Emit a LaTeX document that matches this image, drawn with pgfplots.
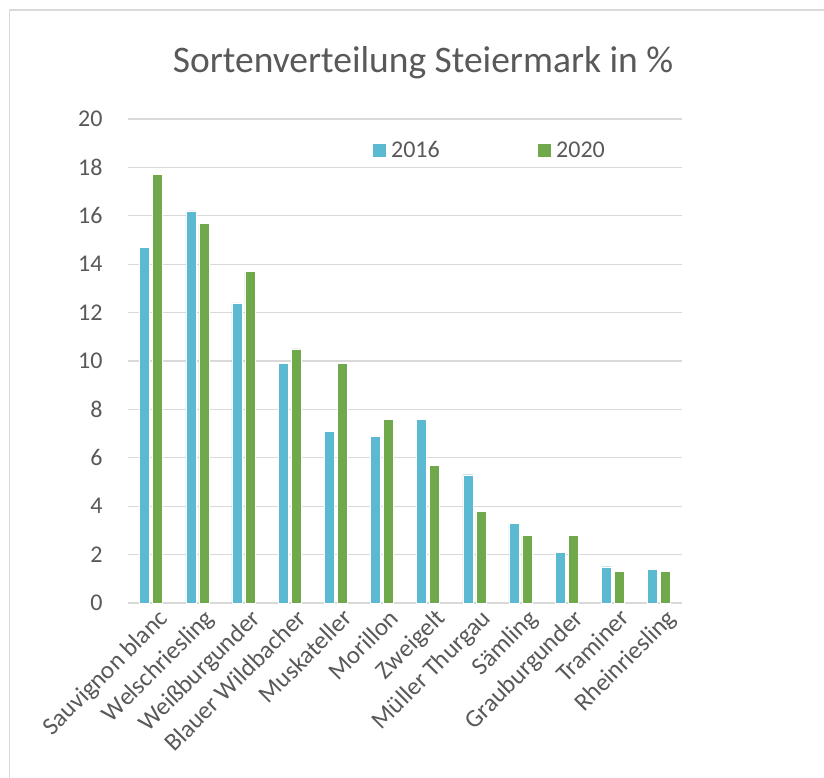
\documentclass[border=0pt]{standalone}
\usepackage{pgfplots}
\pgfplotsset{compat=1.18}
\usepackage{fontspec}
\setmainfont{Carlito}
\definecolor{cblue}{RGB}{91,186,209}
\definecolor{cgreen}{RGB}{112,168,76}
\definecolor{ctext}{RGB}{89,89,89}
\definecolor{cgrid}{RGB}{217,217,217}
\begin{document}
\begin{tikzpicture}[x=1pt,y=1pt]
\useasboundingbox (0,0) rectangle (824,-778);
\fill[white] (0,0) rectangle (824,-778);
\draw[cgrid,line width=1.3pt] (9.5,-778) -- (9.5,-10) -- (824,-10);
\node[font=\fontsize{37.5}{40}\selectfont,text=ctext] at (423,-63) {Sortenverteilung Steiermark in \%};
\begin{axis}[
  at={(128pt,-603pt)}, anchor=south west,
  scale only axis, width=554pt, height=484pt,
  xmin=-0.5, xmax=11.5, ymin=0, ymax=20,
  ybar, bar width=10pt,
  xtick={0,...,11},
  xticklabels={Sauvignon blanc,Welschriesling,Weißburgunder,Blauer Wildbacher,Muskateller,Morillon,Zweigelt,Müller Thurgau,Sämling,Grauburgunder,Traminer,Rheinriesling},
  xticklabel style={rotate=45, anchor=north east, inner sep=2pt, xshift=6pt, yshift=-2pt, font=\fontsize{25}{28}\selectfont},
  ytick={0,2,...,20},
  yticklabel style={xshift=-22pt},
  tick style={draw=none},
  axis line style={draw=none},
  axis x line*=bottom,
  ymajorgrids, grid style={cgrid,line width=1.3pt},
  ticklabel style={font=\fontsize{24}{28}\selectfont,text=ctext},
  /pgf/number format/assume math mode=true,
  legend columns=2,
  legend style={draw=none, fill=none, at={(0.653,0.936)}, anchor=center,
    font=\fontsize{24}{28}\selectfont, text=ctext,
    /tikz/every odd column/.append style={column sep=4pt},
    /tikz/every even column/.append style={column sep=96pt}},
  legend cell align=left,
]
\draw[cgrid,line width=1.3pt] (axis cs:-0.5,0) -- (axis cs:11.5,0);
\addplot[fill=cblue, draw=white, line width=0.4pt, bar shift=-6.5pt,
  legend image code/.code={\fill[cblue] (0pt,-6pt) rectangle (12pt,6pt);}]
 coordinates {(0,14.7) (1,16.2) (2,12.4) (3,9.9) (4,7.1) (5,6.9) (6,7.6) (7,5.3) (8,3.3) (9,2.1) (10,1.5) (11,1.4)};
\addplot[fill=cgreen, draw=white, line width=0.4pt, bar shift=6.5pt,
  legend image code/.code={\fill[cgreen] (0pt,-6pt) rectangle (12pt,6pt);}]
 coordinates {(0,17.7) (1,15.7) (2,13.7) (3,10.5) (4,9.9) (5,7.6) (6,5.7) (7,3.8) (8,2.8) (9,2.8) (10,1.3) (11,1.3)};
\legend{2016,2020}
\end{axis}
\end{tikzpicture}
\end{document}
